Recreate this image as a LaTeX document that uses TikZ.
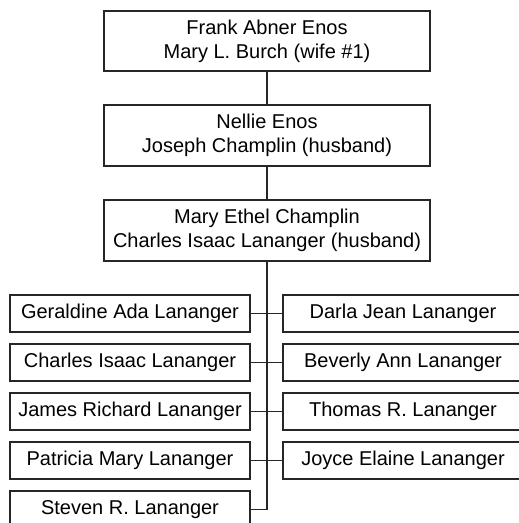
\documentclass[tikz,border=0pt]{standalone}
\usepackage{fontspec}
\setmainfont{Liberation Sans}
\begin{document}
\begin{tikzpicture}[x=1pt,y=-1pt,
  every node/.style={font=\fontsize{20}{24}\selectfont},
  famous/.style={draw=black!85, line width=1.2pt, align=center, inner sep=0pt,
    minimum width=326pt, minimum height=60pt},
  kid/.style={draw=black!85, line width=1.2pt, inner sep=0pt,
    minimum width=240pt, minimum height=37pt},
  link/.style={draw=black!85, line width=1.2pt}]
\useasboundingbox (0,0) rectangle (519,523);
\node[famous] (a) at (267,41) {Frank Abner Enos\\Mary L. Burch (wife \#1)};
\node[famous, minimum height=61pt] (b) at (267,135.5) {Nellie Enos\\Joseph Champlin (husband)};
\node[famous, minimum height=61pt] (c) at (267,230.5) {Mary Ethel Champlin\\Charles Isaac Lananger (husband)};
\node[kid] (l1) at (130,313.5) {Geraldine Ada Lananger};
\node[kid] (l2) at (130,362.5) {Charles Isaac Lananger};
\node[kid] (l3) at (130,411.5) {James Richard Lananger};
\node[kid] (l4) at (130,460.5) {Patricia Mary Lananger};
\node[kid] (l5) at (130,509.5) {Steven R. Lananger};
\node[kid] (r1) at (403,313.5) {Darla Jean Lananger};
\node[kid] (r2) at (403,362.5) {Beverly Ann Lananger};
\node[kid] (r3) at (403,411.5) {Thomas R. Lananger};
\node[kid] (r4) at (403,460.5) {Joyce Elaine Lananger};
\draw[link] (a) -- (b);
\draw[link] (b) -- (c);
\draw[link] (c.south) |- (l5.east);
\foreach \n in {l1,l2,l3,l4} \draw[link] (\n.east) -- (\n.east -| c.south);
\foreach \n in {r1,r2,r3,r4} \draw[link] (\n.west) -- (\n.west -| c.south);
\end{tikzpicture}
\end{document}
